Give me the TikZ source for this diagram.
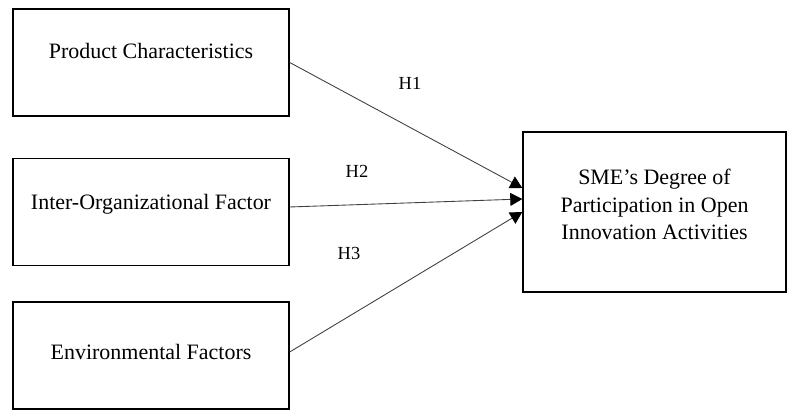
\documentclass[tikz,border=0pt]{standalone}
\usepackage{fontspec}
\setmainfont{Liberation Serif}
\usetikzlibrary{arrows.meta,positioning,calc}

\begin{document}
\begin{tikzpicture}[
    >={Triangle[length=2.4mm,width=2.6mm,color=black]},
    path/.style={->,line width=0.5pt,draw=black!75},
    box/.style={draw=black,line width=0.8pt,fill=white,
      minimum width=5.52cm,minimum height=2.14cm,align=center,
      font=\fontsize{12.5}{15.6}\selectfont},
    target/.style={box,minimum width=5.26cm,minimum height=3.2cm},
    hyp/.style={font=\fontsize{10.5}{12}\selectfont}
  ]
    \useasboundingbox (0,0) rectangle (15.74,8.24);

    \node[box,text depth=0.45cm] (prod) at (3.02,6.99) {Product Characteristics};
    \node[box,text depth=0.41cm] (inter) at (3.02,4.0) {Inter-Organizational Factor};
    \node[box,text depth=0.15cm] (env) at (3.02,1.13) {Environmental Factors};
    \node[target,text depth=0.3cm] (sme) at (13.09,4.0)
      {SME's Degree of\\Participation in Open\\Innovation Activities};

    \draw[path] (prod.east) -- ([yshift=0.48cm]sme.west);
    \draw[path] ([yshift=0.1cm]inter.east) -- ([yshift=0.26cm]sme.west);
    \draw[path] ([yshift=0.07cm]env.east) -- (sme.west);

    \node[hyp] (h1) at (8.2,6.58) {H1};
    \node[hyp] (h2) at (7.14,4.82) {H2};
    \node[hyp] (h3) at (6.98,3.18) {H3};
  \end{tikzpicture}
\end{document}
